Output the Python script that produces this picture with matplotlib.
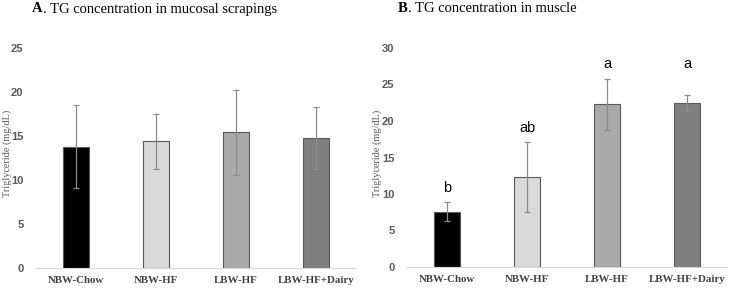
import matplotlib.pyplot as plt

groups = ["NBW-Chow", "NBW-HF", "LBW-HF", "LBW-HF+Dairy"]
colors = ["#000000", "#d9d9d9", "#a9a9a9", "#7f7f7f"]

# A: mucosal scrapings
mucosa_mean = [13.8, 14.4, 15.4, 14.75]
mucosa_err = [4.7, 3.1, 4.8, 3.5]

# B: muscle
muscle_mean = [7.6, 12.3, 22.3, 22.5]
muscle_err = [1.25, 4.8, 3.5, 1.0]
muscle_letters = ["b", "ab", "a", "a"]
letter_y = [10.8, 19.0, 27.8, 27.8]

W, H = 730, 289
fig = plt.figure(figsize=(W / 100, H / 100), dpi=100)

def panel(left, right, top0, bot0, means, errs, ymax, ystep, label_x):
    ax = fig.add_axes([left / W, 1 - bot0 / H, (right - left) / W, (bot0 - top0) / H])
    x = range(len(groups))
    ax.bar(x, means, width=0.32, color=colors, edgecolor="#595959", linewidth=0.8)
    ax.errorbar(x, means, yerr=errs, fmt="none", ecolor="#8c8c8c", elinewidth=0.9, capsize=2.5, capthick=0.9)
    ax.set_xlim(-0.5, len(groups) - 0.5)
    ax.set_ylim(0, ymax)
    ax.set_yticks(range(0, ymax + 1, ystep))
    ax.set_xticks(list(x))
    ax.set_xticklabels(groups, family="Liberation Serif", fontweight="bold", fontsize=7.8, color="#404040")
    for lab in ax.get_yticklabels():
        lab.set_family("Liberation Sans")
        lab.set_fontweight("bold")
        lab.set_fontsize(8)
        lab.set_color("#595959")
    ax.tick_params(axis="both", length=0)
    ax.tick_params(axis="y", pad=9)
    ax.tick_params(axis="x", pad=6)
    for s in ["top", "right", "left"]:
        ax.spines[s].set_visible(False)
    ax.spines["bottom"].set_color("#d9d9d9")
    ax.set_ylabel("Triglyceride (mg/dL)", family="Liberation Serif", fontsize=7.4, color="#595959", va="center")
    ax.yaxis.set_label_coords((label_x - left) / (right - left), (bot0 - 153) / (bot0 - top0))
    return ax

axA = panel(36, 356, 48, 268, mucosa_mean, mucosa_err, 25, 5, 7)
axB = panel(407, 727, 48, 267, muscle_mean, muscle_err, 30, 5, 377)

for i, t in enumerate(muscle_letters):
    axB.text(i, letter_y[i], t, ha="center", va="center", fontsize=10.5, family="Liberation Sans", color="#000000")

def title(x, bold, rest):
    t1 = fig.text(x / W, 1 - 9 / H, bold, fontsize=10.5, va="center", family="Liberation Serif", fontweight="bold")
    fig.canvas.draw()
    bb = t1.get_window_extent()
    fig.text(bb.x1 / W, 1 - 9 / H, rest, fontsize=10.5, va="center", family="Liberation Serif")

title(32, "A", ". TG concentration in mucosal scrapings")
title(398, "B", ". TG concentration in muscle")

fig.savefig("out.png", dpi=100)
